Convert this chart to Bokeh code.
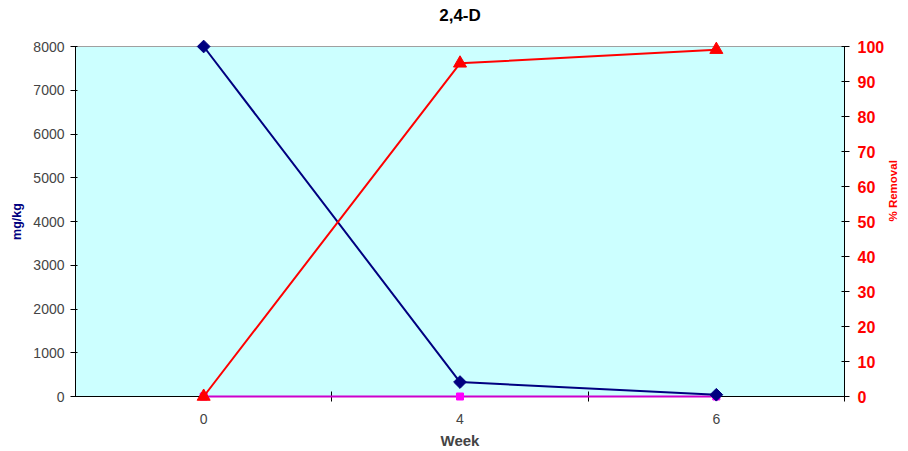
import math
from bokeh.plotting import figure
from bokeh.models import Range1d, LinearAxis, FixedTicker, ColumnDataSource, Title
from bokeh.embed import file_html
from bokeh.resources import INLINE

title_text = "2,4-D"
weeks = ["0", "4", "6"]
conc_mgkg = [8000, 330, 40]
conc_zero = [0, 0, 0]
removal_pct = [0, 95.2, 99.1]

xpos = list(range(len(weeks)))
src = ColumnDataSource(dict(x=xpos, conc=conc_mgkg, zero=conc_zero, rem=removal_pct))

FONT = "Liberation Sans"

xr = Range1d(-0.5, len(weeks) - 0.5)
yr = Range1d(0, 8000)
pr = Range1d(0, 100)

p = figure(width=908, height=451, output_backend="svg", toolbar_location=None,
           x_range=xr, y_range=yr,
           min_border_left=75, min_border_right=62, min_border_top=46, min_border_bottom=54)
p.extra_y_ranges = {"pct": pr}

p.background_fill_color = "#CCFFFF"
p.border_fill_color = "white"
p.outline_line_color = "#A0A0A0"
p.xgrid.visible = False
p.ygrid.visible = False

# main title (outermost)
p.title.text = title_text
p.title.align = "center"
p.title.text_font = FONT
p.title.text_font_size = "17px"
p.title.text_font_style = "bold"
p.title.text_color = "black"
p.title.standoff = 0

# spacer line between frame and the title
spacer = Title(text=" ", text_font=FONT, text_font_size="17px", standoff=1)
p.add_layout(spacer, "above")

# x axis
xa = p.xaxis[0]
xa.ticker = FixedTicker(ticks=xpos, minor_ticks=[i + 0.5 for i in xpos])
xa.major_label_overrides = {i: w for i, w in enumerate(weeks)}
xa.major_tick_out = 0
xa.major_tick_in = 0
xa.minor_tick_out = 5
xa.minor_tick_in = 5
xa.minor_tick_line_color = "black"
xa.axis_line_color = "black"
xa.major_label_text_font = FONT
xa.major_label_text_font_size = "14px"
xa.major_label_standoff = 12
xa.axis_label = "Week"
xa.axis_label_text_font = FONT
xa.axis_label_text_font_size = "15px"
xa.axis_label_text_font_style = "bold"
xa.axis_label_standoff = 5

# left axis
ya = p.yaxis[0]
ya.ticker = FixedTicker(ticks=list(range(0, 8001, 1000)))
ya.minor_tick_line_color = None
ya.major_tick_out = 5
ya.major_tick_in = 2
ya.axis_line_color = "black"
ya.major_label_text_font = FONT
ya.major_label_text_font_size = "14px"
ya.major_label_standoff = 6
ya.axis_label = "mg/kg"
ya.axis_label_text_font = FONT
ya.axis_label_text_font_size = "12.5px"
ya.axis_label_text_font_style = "bold"
ya.axis_label_text_color = "#000080"
ya.axis_label_standoff = 6

# right axis
ra = LinearAxis(y_range_name="pct", ticker=FixedTicker(ticks=list(range(0, 101, 10))))
ra.minor_tick_line_color = None
ra.major_tick_out = 5
ra.major_tick_in = 3
ra.axis_line_color = "black"
ra.major_label_text_font = FONT
ra.major_label_text_font_size = "16px"
ra.major_label_text_font_style = "bold"
ra.major_label_text_color = "red"
ra.major_label_standoff = 8
ra.axis_label = "% Removal"
ra.axis_label_text_font = FONT
ra.axis_label_text_font_size = "11.5px"
ra.axis_label_text_font_style = "bold"
ra.axis_label_text_color = "red"
ra.axis_label_standoff = 6
if hasattr(ra, "axis_label_orientation"):
    ra.axis_label_orientation = math.pi / 2
p.add_layout(ra, "right")

# series
r = []
r.append(p.line("x", "zero", source=src, color="#CC00CC", line_width=2))
r.append(p.scatter("x", "zero", source=src, marker="square", size=7, color="#FF00FF"))

r.append(p.line("x", "conc", source=src, color="#000080", line_width=2))
r.append(p.scatter("x", "conc", source=src, marker="square", angle=math.pi / 4, size=9, color="#000080"))

r.append(p.line("x", "rem", source=src, color="red", line_width=2, y_range_name="pct"))
r.append(p.scatter("x", "rem", source=src, marker="triangle", size=13, color="red", y_range_name="pct"))
for rr in r:
    rr.level = "overlay"

open("out.html", "w").write(file_html(p, INLINE))
